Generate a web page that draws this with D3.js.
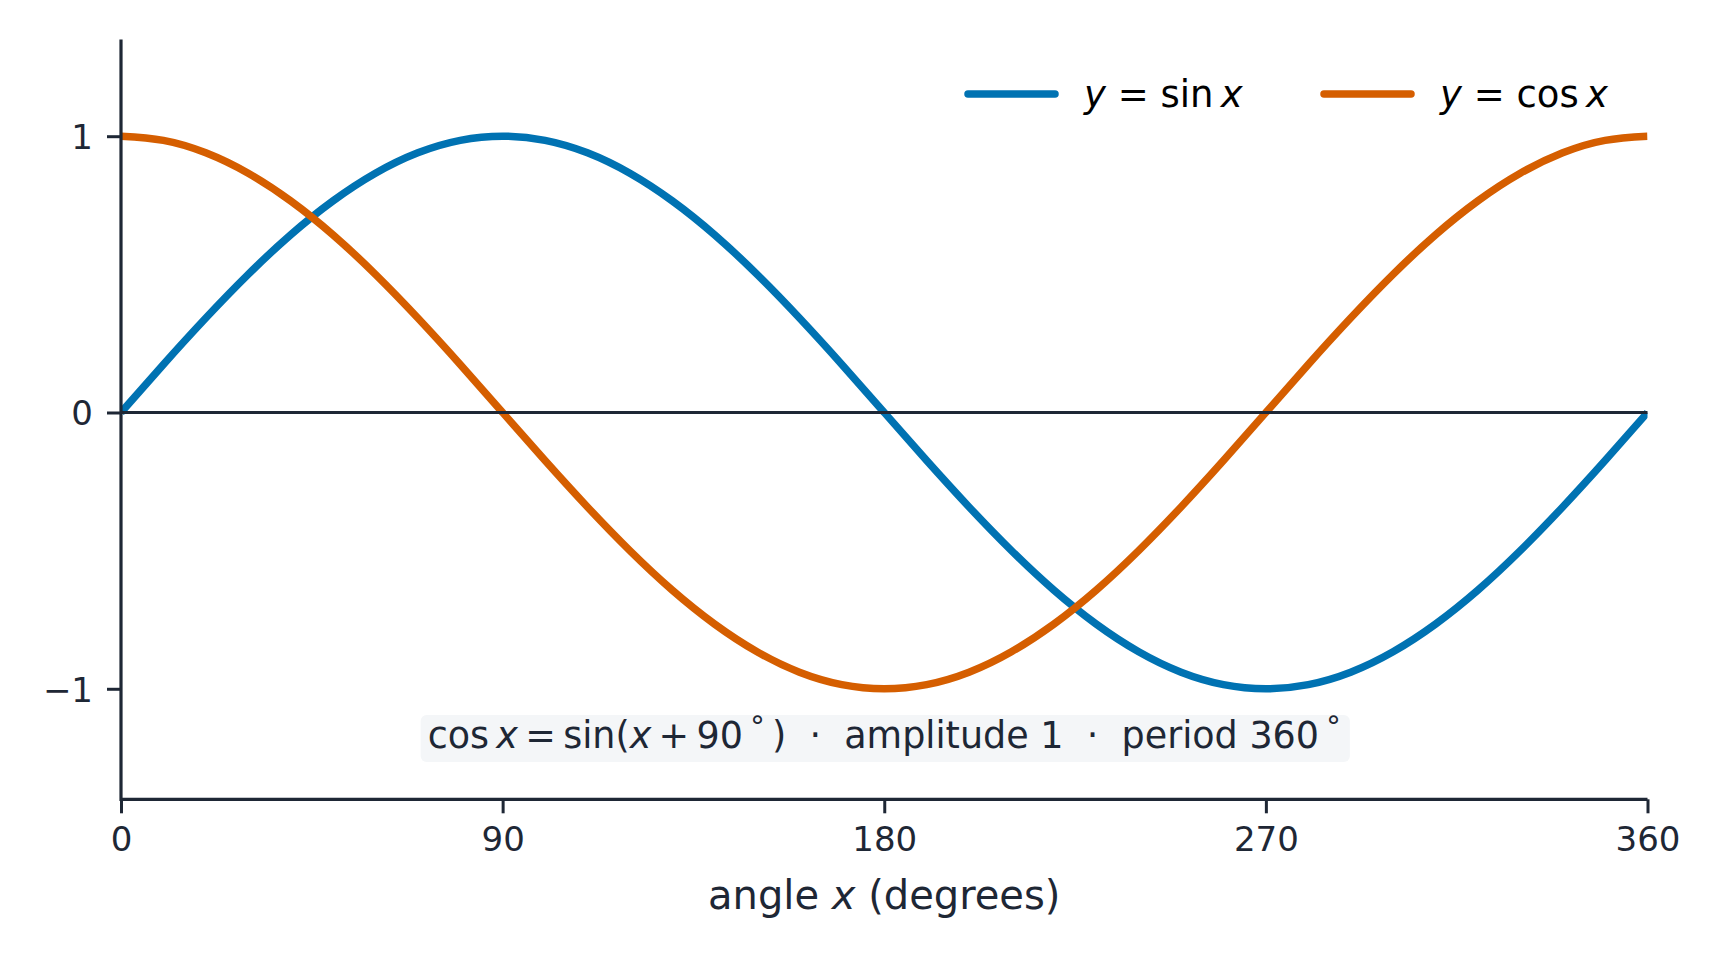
<!DOCTYPE html>
<html>
<head>
<meta charset="utf-8">
<script src="https://cdn.jsdelivr.net/npm/d3@7"></script>
<style>
  html, body { margin: 0; padding: 0; background: #fff; }
  svg { display: block; font-family: "DejaVu Sans", sans-serif; }
  text { white-space: pre; }
</style>
</head>
<body>
<div id="chart"></div>
<script>
const angles = [0, 10, 20, 30, 40, 50, 60, 70, 80, 90, 100, 110, 120, 130, 140, 150, 160, 170, 180,
                190, 200, 210, 220, 230, 240, 250, 260, 270, 280, 290, 300, 310, 320, 330, 340, 350, 360];
const sinValues = [0, 0.174, 0.342, 0.5, 0.643, 0.766, 0.866, 0.94, 0.985, 1, 0.985, 0.94, 0.866, 0.766, 0.643, 0.5, 0.342, 0.174, 0,
                   -0.174, -0.342, -0.5, -0.643, -0.766, -0.866, -0.94, -0.985, -1, -0.985, -0.94, -0.866, -0.766, -0.643, -0.5, -0.342, -0.174, 0];
const cosValues = [1, 0.985, 0.94, 0.866, 0.766, 0.643, 0.5, 0.342, 0.174, 0, -0.174, -0.342, -0.5, -0.643, -0.766, -0.866, -0.94, -0.985, -1,
                   -0.985, -0.94, -0.866, -0.766, -0.643, -0.5, -0.342, -0.174, 0, 0.174, 0.342, 0.5, 0.643, 0.766, 0.866, 0.94, 0.985, 1];
const xTicks = [0, 90, 180, 270, 360];
const yTicks = [-1, 0, 1];
const seriesNames = ["sin", "cos"];

function makeChart() {
    let svgWidth = 1723;
    let svgHeight = 964;
    let margin = { top: 39.5, right: 75.5, bottom: 164.7, left: 121 };

    let w = svgWidth - margin.left - margin.right;
    let h = svgHeight - margin.top - margin.bottom;
    let ink = "#1e2735";
    let colors = { sin: "#0072b2", cos: "#d55e00" };

    let svg = d3.select("#chart")
        .append("svg")
        .attr("width", svgWidth)
        .attr("height", svgHeight);
    let g = svg.append("g")
        .attr("transform", `translate(${margin.left}, ${margin.top})`);

    let x = d3.scaleLinear().domain([0, 360]).range([0, w]);
    let y = d3.scaleLinear().domain([-1.4, 1.35]).range([h, 0]);

    svg.append("defs").append("clipPath")
        .attr("id", "plotClip")
        .append("rect")
        .attr("width", w)
        .attr("height", h);

    //curves
    let series = {
        sin: angles.map((a, i) => ({ a: a, v: sinValues[i] })),
        cos: angles.map((a, i) => ({ a: a, v: cosValues[i] }))
    };
    let line = d3.line()
        .x(d => x(d.a))
        .y(d => y(d.v))
        .curve(d3.curveNatural);

    let curves = g.append("g").attr("clip-path", "url(#plotClip)");
    seriesNames.forEach(name => {
        curves.append("path")
            .datum(series[name])
            .attr("d", line)
            .attr("fill", "none")
            .attr("stroke", colors[name])
            .attr("stroke-width", 7.5)
            .attr("stroke-linejoin", "round");
    });

    //zero line
    g.append("line")
        .attr("x1", x(0))
        .attr("x2", x(360))
        .attr("y1", y(0))
        .attr("y2", y(0))
        .attr("stroke", ink)
        .attr("stroke-width", 3);

    //axes
    let xAxis = d3.axisBottom(x).tickValues(xTicks).tickSize(14).tickPadding(12)
        .tickFormat(d3.format("d"));
    let yAxis = d3.axisLeft(y).tickValues(yTicks).tickSize(14).tickPadding(14)
        .tickFormat(d => d < 0 ? "\u2212" + Math.abs(d) : d);

    let gx = g.append("g")
        .attr("transform", `translate(0, ${h})`)
        .call(xAxis);
    let gy = g.append("g").call(yAxis);

    [gx, gy].forEach(a => {
        a.select(".domain").remove();
        a.selectAll(".tick line").attr("stroke", ink).attr("stroke-width", 3);
        a.selectAll(".tick text")
            .attr("fill", ink)
            .attr("font-size", 34)
            .attr("font-family", "DejaVu Sans");
    });
    gy.selectAll(".tick text").attr("dy", "0.36em");
    gx.selectAll(".tick text").attr("dy", "0.76em");

    g.append("line")
        .attr("x1", 0).attr("x2", w).attr("y1", h).attr("y2", h)
        .attr("stroke", ink).attr("stroke-width", 3.2);
    g.append("line")
        .attr("x1", 0).attr("x2", 0).attr("y1", 0).attr("y2", h + 1.6)
        .attr("stroke", ink).attr("stroke-width", 3.2);

    //x axis label
    let xl = g.append("text")
        .attr("x", x(180))
        .attr("y", h + 110)
        .attr("text-anchor", "middle")
        .attr("font-size", 40)
        .attr("fill", ink);
    xl.append("tspan").text("angle ");
    xl.append("tspan").attr("font-style", "italic").text("x");
    xl.append("tspan").text(" (degrees)");

    //annotation
    let note = g.append("g");
    let nt = note.append("text")
        .attr("x", x(180))
        .attr("y", y(-1.2) + 4)
        .attr("text-anchor", "middle")
        .attr("font-size", 36.5)
        .attr("fill", ink);
    let parts = [
        ["cos\u2009", null], ["x", "i"], ["\u2009=\u2009sin(", null], ["x", "i"], ["\u2009+\u200990\u2009", null], ["\u00b0", "s"],
        ["\u2009)  \u00b7  amplitude 1  \u00b7  period 360\u2009", null], ["\u00b0", "s"]
    ];
    parts.forEach((p, i) => {
        let t = nt.append("tspan").text(p[0]);
        if (p[1] === "i") t.attr("font-style", "italic");
        if (p[1] === "s") t.attr("font-size", 29).attr("dy", -12);
        if (i > 0 && parts[i - 1][1] === "s") t.attr("dy", 12);
    });
    let bb = nt.node().getBBox();
    note.insert("rect", "text")
        .attr("x", bb.x - 7)
        .attr("y", y(-1.2) - 29)
        .attr("width", bb.width + 16)
        .attr("height", 47)
        .attr("rx", 6)
        .attr("fill", "#f4f6f8");

    //legend
    let legendItems = [
        { name: "sin", fn: "sin", lx: 968 - margin.left },
        { name: "cos", fn: "cos", lx: 1324 - margin.left }
    ];
    let ly = 94 - margin.top;
    legendItems.forEach(item => {
        g.append("line")
            .attr("x1", item.lx).attr("x2", item.lx + 87)
            .attr("y1", ly).attr("y2", ly)
            .attr("stroke", colors[item.name])
            .attr("stroke-width", 7.5)
            .attr("stroke-linecap", "round");
        let t = g.append("text")
            .attr("x", item.lx + 116)
            .attr("y", ly + 13)
            .attr("font-size", 37)
            .attr("fill", "#000");
        t.append("tspan").attr("font-style", "italic").text("y");
        t.append("tspan").text(" = " + item.fn + "\u2009");
        t.append("tspan").attr("font-style", "italic").text("x");
    });
}

makeChart();
</script>
</body>
</html>
